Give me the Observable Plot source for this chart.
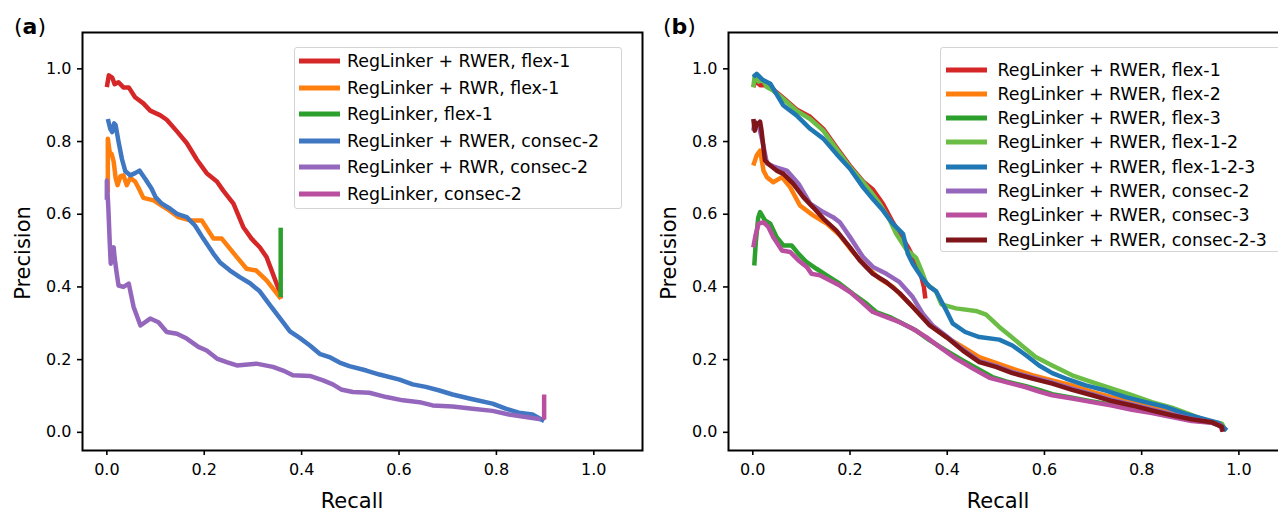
<!DOCTYPE html>
<html><head><meta charset="utf-8">
<script src="https://cdn.jsdelivr.net/npm/d3@7"></script>
<script src="https://cdn.jsdelivr.net/npm/@observablehq/plot@0.6"></script>
<style>
html,body{margin:0;padding:0;background:#fff;overflow:hidden;}
#root{position:relative;width:1278px;height:513px;overflow:hidden;font-family:"DejaVu Sans",sans-serif;color:#000;}
.panel{position:absolute;top:0;}
.legend{position:absolute;background:rgba(255,255,255,0.8);border:1px solid #d4d4d4;border-radius:3px;box-sizing:border-box;}
.row{position:absolute;left:0;height:0;width:100%;}
.sw{position:absolute;height:5px;transform:translateY(-50%);}
.lt{position:absolute;white-space:nowrap;font-size:17.4px;line-height:1.164;transform:translateY(-50%) scaleY(1.05);}
.tag{position:absolute;font-size:22px;line-height:1.164;white-space:nowrap;}
.xl{position:absolute;font-size:21px;line-height:1.164;transform:translateX(-50%);white-space:nowrap;}
.yl{position:absolute;font-size:21px;line-height:1.164;white-space:nowrap;transform:translate(-50%,-50%) rotate(-90deg);}
</style></head><body><div id="root"></div>
<script>
// ---------- tick values ----------
const xTicks = [0, 0.2, 0.4, 0.6, 0.8, 1.0];
const yTicks = [0, 0.2, 0.4, 0.6, 0.8, 1.0];

// ---------- panel (a) series: [recall, precision] ----------
const aLabels = ["RegLinker + RWER, flex-1", "RegLinker + RWR, flex-1", "RegLinker, flex-1",
  "RegLinker + RWER, consec-2", "RegLinker + RWR, consec-2", "RegLinker, consec-2"];
const aColors = ["#d62728", "#ff7f0e", "#2ca02c", "#3f77c2", "#9467bd", "#bb4f9f"];

const aRwerFlex1 = [[0,0.95],[0.004,0.982],[0.011,0.976],[0.016,0.958],[0.024,0.963],[0.034,0.949],[0.045,0.949],[0.058,0.922],[0.075,0.905],[0.089,0.885],[0.11,0.872],[0.123,0.86],[0.144,0.828],[0.164,0.796],[0.185,0.75],[0.205,0.713],[0.226,0.69],[0.239,0.665],[0.26,0.629],[0.28,0.565],[0.297,0.533],[0.314,0.509],[0.328,0.482],[0.341,0.436],[0.355,0.386],[0.357,0.368]];
const aRwrFlex1 = [[0.002,0.66],[0.002,0.808],[0.006,0.77],[0.01,0.765],[0.014,0.745],[0.018,0.7],[0.022,0.68],[0.028,0.705],[0.034,0.707],[0.041,0.68],[0.048,0.7],[0.058,0.69],[0.066,0.67],[0.075,0.645],[0.096,0.638],[0.123,0.615],[0.147,0.592],[0.171,0.583],[0.195,0.583],[0.219,0.533],[0.236,0.533],[0.267,0.482],[0.287,0.45],[0.307,0.445],[0.328,0.418],[0.355,0.372],[0.358,0.368]];
const aRegFlex1 = [[0.357,0.563],[0.357,0.372]];
const aRwerConsec2 = [[0.002,0.862],[0.007,0.835],[0.011,0.826],[0.015,0.85],[0.018,0.845],[0.024,0.8],[0.031,0.752],[0.038,0.718],[0.048,0.707],[0.058,0.713],[0.067,0.72],[0.079,0.697],[0.092,0.67],[0.1,0.647],[0.113,0.629],[0.13,0.615],[0.144,0.601],[0.164,0.592],[0.181,0.569],[0.198,0.533],[0.219,0.491],[0.232,0.468],[0.253,0.445],[0.273,0.427],[0.294,0.41],[0.314,0.388],[0.335,0.35],[0.355,0.315],[0.376,0.278],[0.396,0.26],[0.417,0.239],[0.437,0.216],[0.457,0.207],[0.478,0.192],[0.498,0.182],[0.533,0.17],[0.56,0.159],[0.601,0.145],[0.628,0.132],[0.655,0.125],[0.683,0.115],[0.71,0.104],[0.751,0.091],[0.792,0.079],[0.819,0.065],[0.846,0.054],[0.874,0.049],[0.898,0.031]];
const aRwrConsec2 = [[0,0.64],[0,0.693],[0.003,0.62],[0.006,0.52],[0.008,0.464],[0.012,0.5],[0.014,0.509],[0.016,0.48],[0.02,0.44],[0.024,0.404],[0.034,0.4],[0.045,0.409],[0.055,0.345],[0.069,0.294],[0.089,0.313],[0.106,0.303],[0.123,0.276],[0.144,0.271],[0.164,0.258],[0.188,0.235],[0.205,0.225],[0.226,0.203],[0.246,0.193],[0.267,0.184],[0.307,0.189],[0.341,0.18],[0.362,0.17],[0.382,0.157],[0.417,0.155],[0.444,0.143],[0.464,0.132],[0.481,0.118],[0.505,0.111],[0.539,0.109],[0.574,0.097],[0.608,0.088],[0.642,0.083],[0.669,0.074],[0.71,0.071],[0.751,0.065],[0.792,0.059],[0.826,0.049],[0.86,0.042],[0.891,0.036]];
const aRegConsec2 = [[0.898,0.104],[0.898,0.035]];

// ---------- panel (b) series ----------
const bLabels = ["RegLinker + RWER, flex-1", "RegLinker + RWER, flex-2", "RegLinker + RWER, flex-3",
  "RegLinker + RWER, flex-1-2", "RegLinker + RWER, flex-1-2-3", "RegLinker + RWER, consec-2",
  "RegLinker + RWER, consec-3", "RegLinker + RWER, consec-2-3"];
const bColors = ["#d62728", "#ff7f0e", "#2ca02c", "#6cbd45", "#1f77b4", "#9467bd", "#bb4f9f", "#7f1518"];

const bFlex1 = [[0.001,0.95],[0.006,0.967],[0.015,0.955],[0.03,0.955],[0.045,0.94],[0.063,0.92],[0.09,0.888],[0.118,0.868],[0.145,0.835],[0.172,0.784],[0.2,0.733],[0.227,0.69],[0.247,0.668],[0.268,0.628],[0.288,0.578],[0.305,0.54],[0.32,0.508],[0.335,0.468],[0.345,0.438],[0.352,0.4],[0.355,0.368]];
const bFlex2 = [[0.001,0.734],[0.008,0.762],[0.015,0.775],[0.022,0.72],[0.029,0.702],[0.042,0.688],[0.06,0.702],[0.077,0.674],[0.097,0.624],[0.124,0.597],[0.152,0.574],[0.179,0.542],[0.206,0.496],[0.234,0.455],[0.261,0.423],[0.288,0.4],[0.316,0.363],[0.343,0.326],[0.37,0.29],[0.398,0.262],[0.432,0.235],[0.466,0.207],[0.5,0.191],[0.534,0.175],[0.575,0.157],[0.616,0.143],[0.657,0.129],[0.698,0.111],[0.739,0.097],[0.78,0.083],[0.821,0.07],[0.862,0.053],[0.903,0.039],[0.944,0.028],[0.965,0.015],[0.967,0.003]];
const bFlex3 = [[0.003,0.459],[0.006,0.52],[0.011,0.59],[0.015,0.606],[0.025,0.583],[0.036,0.574],[0.049,0.537],[0.063,0.514],[0.08,0.514],[0.094,0.491],[0.111,0.468],[0.131,0.45],[0.152,0.432],[0.179,0.409],[0.206,0.381],[0.234,0.354],[0.254,0.331],[0.282,0.317],[0.309,0.299],[0.336,0.28],[0.364,0.253],[0.398,0.225],[0.432,0.198],[0.466,0.172],[0.493,0.152],[0.521,0.14],[0.562,0.127],[0.589,0.117],[0.616,0.105],[0.657,0.095],[0.698,0.085],[0.739,0.076],[0.78,0.064],[0.821,0.055],[0.862,0.044],[0.903,0.033],[0.944,0.027],[0.962,0.02],[0.968,0.003]];
const bFlex12 = [[0.001,0.949],[0.004,0.982],[0.012,0.965],[0.02,0.97],[0.029,0.95],[0.042,0.94],[0.063,0.917],[0.09,0.885],[0.118,0.862],[0.145,0.83],[0.172,0.78],[0.2,0.729],[0.227,0.688],[0.241,0.665],[0.261,0.629],[0.282,0.583],[0.295,0.546],[0.316,0.503],[0.336,0.48],[0.347,0.445],[0.357,0.409],[0.377,0.388],[0.388,0.352],[0.418,0.341],[0.459,0.334],[0.48,0.324],[0.507,0.29],[0.528,0.267],[0.555,0.237],[0.582,0.207],[0.616,0.184],[0.657,0.157],[0.698,0.138],[0.739,0.12],[0.78,0.102],[0.821,0.083],[0.862,0.068],[0.897,0.051],[0.931,0.033],[0.965,0.024],[0.972,0.005]];
const bFlex123 = [[0.001,0.977],[0.008,0.986],[0.02,0.97],[0.036,0.959],[0.063,0.899],[0.09,0.872],[0.118,0.835],[0.145,0.808],[0.172,0.766],[0.2,0.725],[0.227,0.674],[0.247,0.642],[0.268,0.61],[0.288,0.574],[0.309,0.546],[0.319,0.491],[0.329,0.464],[0.347,0.427],[0.364,0.4],[0.377,0.388],[0.398,0.335],[0.411,0.3],[0.437,0.276],[0.466,0.262],[0.507,0.255],[0.534,0.239],[0.562,0.212],[0.589,0.184],[0.616,0.163],[0.644,0.148],[0.685,0.129],[0.726,0.115],[0.767,0.097],[0.808,0.083],[0.849,0.07],[0.89,0.051],[0.924,0.038],[0.958,0.026],[0.975,0.005]];
const bConsec2 = [[0.001,0.83],[0.004,0.855],[0.012,0.845],[0.02,0.8],[0.029,0.74],[0.045,0.73],[0.07,0.72],[0.094,0.684],[0.118,0.629],[0.145,0.606],[0.165,0.592],[0.179,0.578],[0.2,0.537],[0.227,0.482],[0.247,0.455],[0.275,0.436],[0.302,0.413],[0.329,0.372],[0.35,0.326],[0.37,0.294],[0.398,0.265],[0.432,0.228],[0.466,0.196],[0.5,0.183],[0.534,0.166],[0.575,0.151],[0.616,0.137],[0.657,0.12],[0.698,0.105],[0.739,0.089],[0.78,0.077],[0.821,0.063],[0.862,0.05],[0.903,0.037],[0.944,0.028],[0.965,0.015],[0.967,0.003]];
const bConsec3 = [[0.001,0.509],[0.006,0.545],[0.012,0.574],[0.022,0.578],[0.032,0.565],[0.042,0.537],[0.06,0.5],[0.077,0.496],[0.094,0.473],[0.111,0.455],[0.121,0.436],[0.138,0.432],[0.159,0.418],[0.179,0.404],[0.2,0.386],[0.22,0.363],[0.247,0.331],[0.275,0.317],[0.302,0.303],[0.329,0.285],[0.357,0.262],[0.384,0.235],[0.418,0.203],[0.452,0.176],[0.487,0.15],[0.521,0.138],[0.562,0.124],[0.589,0.112],[0.616,0.102],[0.657,0.093],[0.698,0.083],[0.739,0.074],[0.78,0.062],[0.821,0.053],[0.862,0.042],[0.903,0.031],[0.944,0.026],[0.962,0.019],[0.966,0.002]];
const bConsec23 = [[0.001,0.862],[0.004,0.83],[0.008,0.85],[0.012,0.849],[0.015,0.855],[0.018,0.83],[0.025,0.748],[0.036,0.734],[0.049,0.72],[0.063,0.711],[0.083,0.684],[0.104,0.647],[0.124,0.619],[0.145,0.588],[0.172,0.555],[0.2,0.509],[0.22,0.473],[0.247,0.436],[0.275,0.413],[0.302,0.383],[0.329,0.345],[0.364,0.294],[0.398,0.262],[0.432,0.225],[0.466,0.193],[0.5,0.18],[0.534,0.163],[0.575,0.148],[0.616,0.134],[0.657,0.117],[0.698,0.102],[0.739,0.086],[0.78,0.074],[0.821,0.06],[0.862,0.047],[0.903,0.036],[0.944,0.028],[0.965,0.015],[0.967,0.002]];

const aSeries = [aRwerFlex1, aRwrFlex1, aRegFlex1, aRwerConsec2, aRwrConsec2, aRegConsec2];
const bSeries = [bFlex1, bFlex2, bFlex3, bFlex12, bFlex123, bConsec2, bConsec3, bConsec23];

const root = document.getElementById("root");
const fmt = d3.format(".1f");

function makePanel(series, colors, marginLeft) {
  return Plot.plot({
    width: 645, height: 513,
    marginLeft, marginRight: 3, marginTop: 32, marginBottom: 63,
    style: {background: "transparent", color: "black", fontFamily: "DejaVu Sans", fontSize: "16px", overflow: "visible"},
    x: {domain: [-0.05, 1.1]},
    y: {domain: [-0.05, 1.1]},
    marks: [
      ...series.map((s, i) => Plot.line(s, {x: d => d[0], y: d => d[1], stroke: colors[i], strokeWidth: 4.5, strokeLinejoin: "round", strokeLinecap: "butt"})),
      Plot.frame({stroke: "black", strokeWidth: 2}),
      Plot.axisX({ticks: xTicks, tickFormat: fmt, tickSize: 5, tickPadding: 8, strokeWidth: 1.6, fontSize: 16, label: null}),
      Plot.axisY({ticks: yTicks, tickFormat: fmt, tickSize: 5, tickPadding: 6, strokeWidth: 1.6, fontSize: 16, label: null})
    ]
  });
}

function addPanel(left, series, colors, marginLeft) {
  const svg = makePanel(series, colors, marginLeft);
  svg.classList.add("panel");
  svg.style.left = left + "px";
  root.appendChild(svg);
}

function addLegend(labels, colors, box) {
  const lg = document.createElement("div");
  lg.className = "legend";
  Object.assign(lg.style, {left: box.left + "px", top: box.top + "px", width: box.width + "px", height: box.height + "px"});
  labels.forEach((lab, i) => {
    const row = document.createElement("div");
    row.className = "row";
    row.style.top = (box.first + i * box.step) + "px";
    const sw = document.createElement("div");
    sw.className = "sw";
    Object.assign(sw.style, {left: box.swLeft + "px", width: box.swWidth + "px", background: colors[i]});
    const t = document.createElement("div");
    t.className = "lt";
    t.style.left = box.textLeft + "px";
    t.textContent = lab;
    row.appendChild(sw); row.appendChild(t);
    lg.appendChild(row);
  });
  root.appendChild(lg);
}

function addText(cls, html, left, top) {
  const d = document.createElement("div");
  d.className = cls;
  d.innerHTML = html;
  d.style.left = left + "px";
  d.style.top = top + "px";
  root.appendChild(d);
}

addPanel(0, aSeries, aColors, 82);
addPanel(645, bSeries, bColors, 83);

addLegend(aLabels, aColors, {left: 294, top: 47, width: 328, height: 162, first: 13, step: 26.5, swLeft: 4, swWidth: 41, textLeft: 52});
addLegend(bLabels, bColors, {left: 940, top: 47, width: 360, height: 205, first: 21.5, step: 24.3, swLeft: 5, swWidth: 40.5, textLeft: 56.5});

addText("tag", "(<b>a</b>)", 14, 14);
addText("tag", "(<b>b</b>)", 663, 14);
addText("xl", "Recall", 352, 488.5);
addText("xl", "Recall", 998, 488.5);
addText("yl", "Precision", 22.7, 253);
addText("yl", "Precision", 668.7, 253);
</script></body></html>
